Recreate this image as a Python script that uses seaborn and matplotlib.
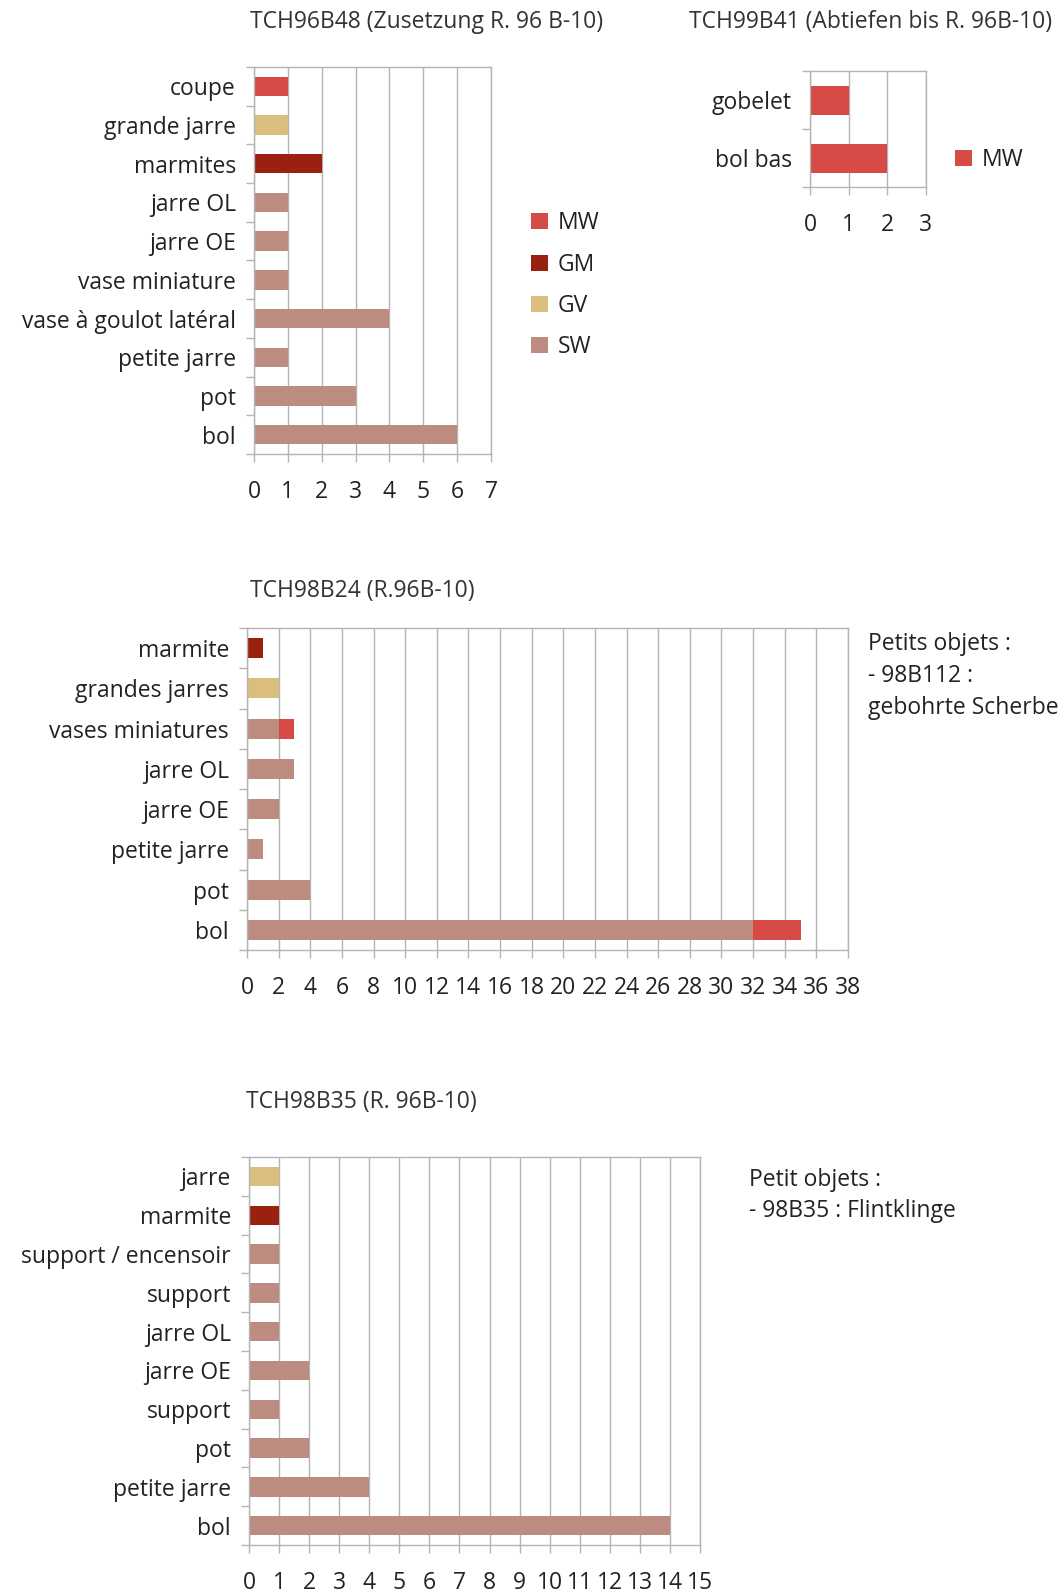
import numpy as np
import pandas as pd
import matplotlib
matplotlib.use("Agg")
import matplotlib.pyplot as plt
from matplotlib.patches import Patch
from matplotlib.ticker import MultipleLocator
import seaborn as sns

sns.set_theme(style="white")
plt.rcParams['font.family'] = ['Open Sans', 'DejaVu Sans']

# ---------------- data ----------------
series_names = ["MW", "GM", "GV", "SW"]
series_colors = ["#D64B45", "#9A2110", "#D9BE7E", "#BD8C80"]
stack_order = ["SW", "GV", "GM", "MW"]

c1_title = "TCH96B48 (Zusetzung R. 96 B-10)"
c1_cats = ["coupe", "grande jarre", "marmites", "jarre OL", "jarre OE",
           "vase miniature", "vase à goulot latéral", "petite jarre", "pot", "bol"]
c1_MW = [1, 0, 0, 0, 0, 0, 0, 0, 0, 0]
c1_GM = [0, 0, 2, 0, 0, 0, 0, 0, 0, 0]
c1_GV = [0, 1, 0, 0, 0, 0, 0, 0, 0, 0]
c1_SW = [0, 0, 0, 1, 1, 1, 4, 1, 3, 6]

c2_title = "TCH99B41 (Abtiefen bis R. 96B-10)"
c2_cats = ["gobelet", "bol bas"]
c2_MW = [1, 2]

c3_title = "TCH98B24 (R.96B-10)"
c3_cats = ["marmite", "grandes jarres", "vases miniatures", "jarre OL", "jarre OE",
           "petite jarre", "pot", "bol"]
c3_MW = [0, 0, 1, 0, 0, 0, 0, 3]
c3_GM = [1, 0, 0, 0, 0, 0, 0, 0]
c3_GV = [0, 2, 0, 0, 0, 0, 0, 0]
c3_SW = [0, 0, 2, 3, 2, 1, 4, 32]
c3_note = ["Petits objets :", "- 98B112 :", "gebohrte Scherbe"]

c4_title = "TCH98B35 (R. 96B-10)"
c4_cats = ["jarre", "marmite", "support / encensoir", "support", "jarre OL",
           "jarre OE", "support", "pot", "petite jarre", "bol"]
c4_GV = [1, 0, 0, 0, 0, 0, 0, 0, 0, 0]
c4_GM = [0, 1, 0, 0, 0, 0, 0, 0, 0, 0]
c4_SW = [0, 0, 1, 1, 1, 2, 1, 2, 4, 14]
c4_note = ["Petit objets :", "- 98B35 : Flintklinge"]

COLORS = dict(zip(series_names, series_colors))
GRID = "#B4B4B4"
TXT = "#222222"
FS = 16.5

W, H = 1062, 1593
fig = plt.figure(figsize=(W / 100, H / 100), dpi=100)


def make_ax(left, top, right, bottom):
    return fig.add_axes([left / W, 1 - bottom / H, (right - left) / W, (bottom - top) / H])


def draw(ax, cats, series, xmax, step):
    n = len(cats)
    slots = [f"s{i}" for i in range(n)]
    cum = np.zeros(n)
    layers = []
    for name in stack_order:
        if name in series:
            cum = cum + np.asarray(series[name], dtype=float)
            layers.append((name, cum.copy()))
    for name, vals in reversed(layers):
        df = pd.DataFrame({"slot": slots, "value": vals})
        sns.barplot(data=df, x="value", y="slot", order=slots, orient="h",
                    color=COLORS[name], saturation=1, width=0.5, linewidth=0,
                    errorbar=None, ax=ax)
    ax.set_xlim(0, xmax)
    ax.set_ylim(n - 0.5, -0.5)
    ax.xaxis.set_major_locator(MultipleLocator(step))
    ax.set_yticks(range(n))
    ax.set_yticklabels(cats)
    ax.set_yticks(np.arange(-0.5, n), minor=True)
    ax.tick_params(axis="y", which="major", length=0, pad=13, labelsize=FS, labelcolor=TXT)
    ax.tick_params(axis="y", which="minor", length=6, width=1, color=GRID, direction="out", left=True)
    ax.tick_params(axis="x", which="major", length=6, width=1, color=GRID, direction="out",
                   bottom=True, pad=13, labelsize=FS, labelcolor=TXT)
    ax.grid(axis="x", color=GRID, lw=1)
    ax.grid(axis="y", visible=False)
    ax.set_axisbelow(True)
    for sp in ax.spines.values():
        sp.set_visible(True)
        sp.set_color(GRID)
        sp.set_linewidth(1)
    ax.set_xlabel("")
    ax.set_ylabel("")


# Chart 1
ax1 = make_ax(254, 67, 491, 454)
draw(ax1, c1_cats, {"MW": c1_MW, "GM": c1_GM, "GV": c1_GV, "SW": c1_SW}, 7, 1)
fig.text(427 / W, 1 - 22 / H, c1_title, ha="center", va="center", fontsize=FS, color="#333333")
handles = [Patch(facecolor=COLORS[s], edgecolor="none") for s in series_names]
fig.legend(handles, series_names, loc="upper left", bbox_to_anchor=(520 / W, 1 - 200 / H),
           frameon=False, fontsize=FS, handlelength=0.7, handleheight=0.7,
           handletextpad=0.45, labelspacing=0.75, borderpad=0, labelcolor=TXT)

# Chart 2
ax2 = make_ax(810, 71, 926, 187)
draw(ax2, c2_cats, {"MW": c2_MW}, 3, 1)
fig.text(871 / W, 1 - 22 / H, c2_title, ha="center", va="center", fontsize=FS, color="#333333")
fig.legend([Patch(facecolor=COLORS["MW"], edgecolor="none")], ["MW"], loc="center left",
           bbox_to_anchor=(944 / W, 1 - 160 / H), frameon=False, fontsize=FS,
           handlelength=0.7, handleheight=0.7, handletextpad=0.45, borderpad=0, labelcolor=TXT)

# Chart 3
ax3 = make_ax(247, 628, 848, 950)
draw(ax3, c3_cats, {"MW": c3_MW, "GM": c3_GM, "GV": c3_GV, "SW": c3_SW}, 38, 2)
fig.text(362 / W, 1 - 591 / H, c3_title, ha="center", va="center", fontsize=FS, color="#333333")
for i, line in enumerate(c3_note):
    fig.text(868 / W, 1 - (644 + 32 * i) / H, line, ha="left", va="center", fontsize=FS, color=TXT)

# Chart 4
ax4 = make_ax(249, 1157, 700, 1545)
draw(ax4, c4_cats, {"GM": c4_GM, "GV": c4_GV, "SW": c4_SW}, 15, 1)
fig.text(361 / W, 1 - 1102 / H, c4_title, ha="center", va="center", fontsize=FS, color="#333333")
for i, line in enumerate(c4_note):
    fig.text(749 / W, 1 - (1180 + 31 * i) / H, line, ha="left", va="center", fontsize=FS, color=TXT)

fig.savefig("out.png", dpi=100, facecolor="white")
